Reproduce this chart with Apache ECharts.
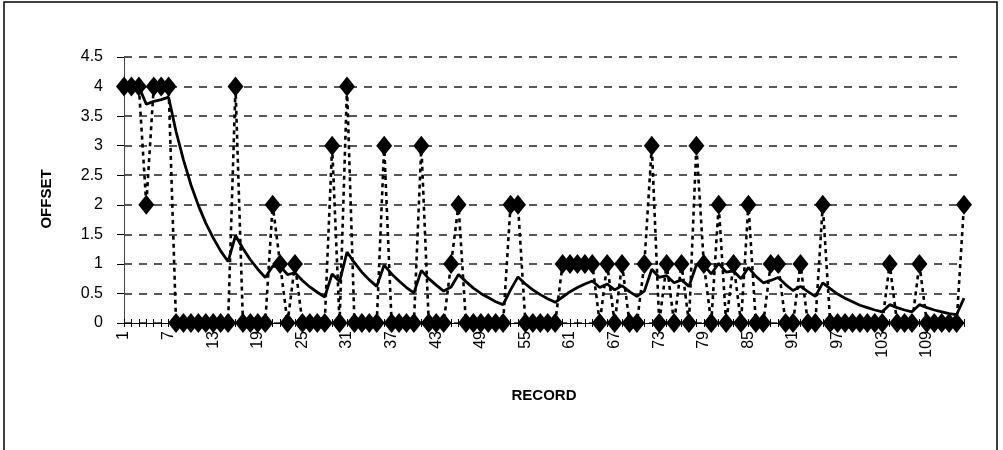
<!DOCTYPE html>
<html>
<head>
<meta charset="utf-8">
<title>OFFSET by RECORD</title>
<script src="https://cdn.jsdelivr.net/npm/echarts@6/dist/echarts.min.js"></script>
<style>
  html, body { margin: 0; padding: 0; background: #fff; }
  #chart { width: 1003px; height: 450px; }
</style>
</head>
<body>
<div id="chart"></div>
<script>
// Record numbers along the category axis (1..114)
const records = Array.from({ length: 114 }, (_, i) => String(i + 1));

// Observed offset for each record (diamond markers joined by a dotted line)
const offsetHits = [
  4, 4, 4, 2, 4, 4, 4,
  0, 0, 0, 0, 0, 0, 0, 0,
  4,
  0, 0, 0, 0,
  2, 1, 0, 1,
  0, 0, 0, 0,
  3, 0, 4,
  0, 0, 0, 0,
  3,
  0, 0, 0, 0,
  3,
  0, 0, 0,
  1, 2,
  0, 0, 0, 0, 0, 0,
  2, 2,
  0, 0, 0, 0, 0,
  1, 1, 1, 1, 1,
  0, 1, 0, 1, 0, 0, 1, 3, 0, 1, 0, 1, 0, 3, 1, 0, 2, 0, 1, 0, 2, 0, 0, 1, 1, 0, 0, 1, 0, 0, 2,
  0, 0, 0, 0, 0, 0, 0, 0,
  1,
  0, 0, 0,
  1,
  0, 0, 0, 0, 0,
  2
];

// Smoothed offset trend (solid line)
const offsetTrend = [
  4.00, 4.00, 4.00, 3.70, 3.75, 3.78, 3.82,
  3.24, 2.76, 2.34, 1.99, 1.69, 1.44, 1.22, 1.04,
  1.48, 1.26, 1.07, 0.91, 0.77,
  0.96, 0.96, 0.82, 0.85,
  0.72, 0.61, 0.52, 0.44,
  0.83, 0.70, 1.20,
  1.02, 0.86, 0.73, 0.62,
  0.98,
  0.83, 0.71, 0.60, 0.51,
  0.89,
  0.75, 0.64, 0.54,
  0.61, 0.82,
  0.70, 0.59, 0.50, 0.43, 0.36, 0.31,
  0.56, 0.78,
  0.66, 0.56, 0.48, 0.41, 0.35,
  0.44, 0.53, 0.60, 0.66, 0.71,
  0.60, 0.66, 0.56, 0.63, 0.53, 0.45, 0.54, 0.91, 0.77, 0.80, 0.68, 0.73, 0.62, 0.98, 0.98, 0.83,
  1.01, 0.86, 0.88, 0.75, 0.94, 0.79, 0.68, 0.72, 0.77, 0.65, 0.55, 0.62, 0.53, 0.45, 0.68,
  0.58, 0.49, 0.42, 0.36, 0.30, 0.26, 0.22, 0.19,
  0.31,
  0.26, 0.22, 0.19,
  0.31,
  0.26, 0.22, 0.19, 0.16, 0.14,
  0.42
];

// Value axis ticks
const yTicks = [0, 0.5, 1, 1.5, 2, 2.5, 3, 3.5, 4, 4.5];
const xLabelEvery = 6;

const FONT = "'Liberation Sans', Arial, sans-serif";

const chart = echarts.init(document.getElementById('chart'), null, { renderer: 'canvas' });

chart.setOption({
  animation: false,
  backgroundColor: '#ffffff',
  textStyle: { fontFamily: FONT, color: '#000' },
  graphic: [{
    type: 'rect',
    shape: { x: 4, y: 2, width: 993, height: 470 },
    style: { fill: 'none', stroke: '#000', lineWidth: 1.5 },
    silent: true,
    z: -10
  }, {
    // value axis title
    type: 'text',
    x: 47,
    y: 199,
    rotation: Math.PI / 2,
    style: {
      text: 'OFFSET',
      fontFamily: FONT,
      fontSize: 15,
      fontWeight: 'bold',
      fill: '#000',
      align: 'center',
      verticalAlign: 'middle'
    },
    silent: true
  }],
  grid: { left: 124, right: 39, top: 57, bottom: 127 },
  xAxis: [{
    type: 'category',
    data: records,
    boundaryGap: false,
    name: 'RECORD',
    nameLocation: 'middle',
    nameGap: 65,
    nameTextStyle: { fontFamily: FONT, fontSize: 15, fontWeight: 'bold', color: '#000' },
    axisLine: { show: true, lineStyle: { color: '#000', width: 1 } },
    axisTick: { show: true, interval: 0, length: 4, lineStyle: { color: '#000', width: 1 } },
    axisLabel: {
      interval: xLabelEvery - 1,
      rotate: 90,
      margin: 8,
      fontFamily: FONT,
      fontSize: 16,
      color: '#000'
    },
    splitLine: { show: false }
  }, {
    type: 'category',
    data: records,
    boundaryGap: false,
    position: 'bottom',
    offset: 0,
    axisLine: { show: false },
    axisTick: { show: true, inside: true, interval: 0, length: 4, lineStyle: { color: '#000', width: 1 } },
    axisLabel: { show: false },
    splitLine: { show: false }
  }],
  yAxis: {
    type: 'value',
    min: yTicks[0],
    max: yTicks[yTicks.length - 1],
    interval: yTicks[1] - yTicks[0],
    axisLine: { show: true, lineStyle: { color: '#444', width: 1 } },
    axisTick: { show: true, length: 7, lineStyle: { color: '#000', width: 1 } },
    axisLabel: { margin: 21, fontFamily: FONT, fontSize: 16, color: '#000' },
    splitLine: { show: true, lineStyle: { color: '#222', width: 1.5, type: [8, 7] } }
  },
  series: [{
    name: 'trend',
    type: 'line',
    data: offsetTrend,
    showSymbol: false,
    symbol: 'none',
    smooth: false,
    lineStyle: { color: '#000', width: 2.8 },
    z: 3
  }, {
    name: 'offset',
    type: 'line',
    data: offsetHits,
    symbol: 'diamond',
    symbolSize: [16, 20],
    showAllSymbol: true,
    itemStyle: { color: '#000' },
    lineStyle: { color: '#000', width: 2.6, type: [4, 4] },
    z: 4
  }]
});
</script>
</body>
</html>
